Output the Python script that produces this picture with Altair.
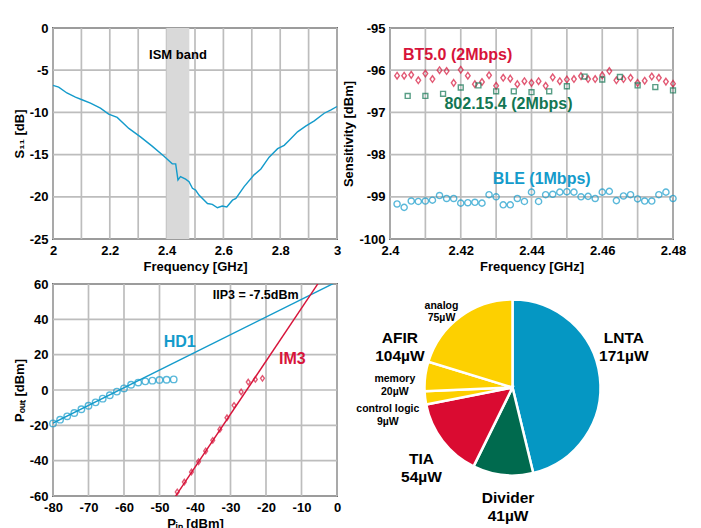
import altair as alt
import pandas as pd

FONT = "Liberation Sans"
BLUE = "#149bcb"
RED = "#d7143a"
GREEN = "#137653"
GRID = "#bdbdbd"

# ---------------- Panel (a): S11 ----------------
s11_freq = [2.0, 2.02, 2.049, 2.079, 2.102, 2.132, 2.167, 2.196, 2.226, 2.267,
            2.308, 2.349, 2.391, 2.42, 2.432, 2.44, 2.449, 2.467, 2.479, 2.491,
            2.502, 2.514, 2.544, 2.561, 2.579, 2.596, 2.612, 2.632, 2.644, 2.673,
            2.708, 2.732, 2.761, 2.791, 2.814, 2.832, 2.861, 2.891, 2.92, 2.955,
            2.979, 3.0]
s11_db = [-6.8, -7.0, -7.7, -8.2, -8.5, -8.9, -9.5, -10.2, -10.6, -11.9,
          -12.9, -14.0, -15.2, -16.1, -16.1, -18.0, -17.6, -17.9, -18.2, -19.0,
          -19.2, -19.8, -20.8, -20.9, -21.3, -21.1, -21.2, -20.4, -20.2, -18.8,
          -17.4, -16.7, -15.3, -14.3, -13.9, -13.3, -12.3, -11.6, -11.0, -10.1,
          -9.7, -9.3]
ism_band = [2.4, 2.48]
s11_xticks = [2.0, 2.1, 2.2, 2.3, 2.4, 2.5, 2.6, 2.7, 2.8, 2.9, 3.0]
s11_yticks = [-25, -20, -15, -10, -5, 0]

# ---------------- Panel (b): Sensitivity ----------------
sens_freq = [2.402, 2.404, 2.406, 2.408, 2.41, 2.412, 2.414, 2.416, 2.418, 2.42,
             2.422, 2.424, 2.426, 2.428, 2.43, 2.432, 2.434, 2.436, 2.438, 2.44,
             2.442, 2.444, 2.446, 2.448, 2.45, 2.452, 2.454, 2.456, 2.458, 2.46,
             2.462, 2.464, 2.466, 2.468, 2.47, 2.472, 2.474, 2.476, 2.478, 2.48]
bt5_sens = [-96.13, -96.13, -96.11, -96.24, -96.08, -96.21, -96.0, -96.02, -96.30, -95.99,
            -96.13, -96.33, -96.28, -96.12, -96.37, -96.18, -96.20, -96.33, -96.26, -96.30,
            -96.26, -96.37, -96.17, -96.26, -96.22, -96.21, -96.14, -96.21, -96.21, -96.12,
            -96.02, -96.24, -96.21, -96.18, -96.30, -96.25, -96.15, -96.18, -96.27, -96.32]
ble_sens = [-99.17, -99.25, -99.10, -99.11, -99.10, -99.08, -98.97, -99.04, -99.04, -99.15,
            -99.14, -99.13, -99.15, -98.95, -99.00, -99.19, -99.19, -99.04, -99.11, -98.89,
            -99.11, -98.95, -98.94, -98.89, -98.88, -98.89, -99.00, -98.99, -99.04, -98.89,
            -98.87, -99.09, -98.98, -98.95, -99.05, -99.10, -99.10, -98.95, -98.89, -99.04]
zb_freq = [2.405, 2.41, 2.415, 2.42, 2.425, 2.43, 2.435, 2.44,
           2.445, 2.45, 2.455, 2.46, 2.465, 2.47, 2.475, 2.48]
zb_sens = [-96.61, -96.61, -96.56, -96.41, -96.36, -96.50, -96.50, -96.52,
           -96.50, -96.38, -96.15, -96.22, -96.16, -96.36, -96.40, -96.48]
sens_xticks = [2.40, 2.41, 2.42, 2.43, 2.44, 2.45, 2.46, 2.47, 2.48]
sens_yticks = [-100, -99, -98, -97, -96, -95]

# ---------------- Panel (c): Pout vs Pin ----------------
hd1_pin = [-80, -78, -76, -74, -72, -70, -68, -66, -64, -62, -60, -58, -56, -54, -52, -50, -48, -46]
hd1_pout = [-18.9, -16.8, -14.9, -13.0, -10.9, -8.9, -7.0, -4.9, -3.0, -0.9,
            0.9, 3.0, 4.2, 4.9, 5.3, 5.7, 5.8, 6.0]
im3_pin = [-45, -43, -41, -39, -37, -35, -33, -31, -29, -27, -25, -23, -21]
im3_pout = [-57.7, -52.1, -46.4, -40.6, -34.5, -28.5, -22.3, -15.7, -8.7, -1.1, 4.5, 6.0, 6.6]
hd1_fit_pin = [-80, 0]
hd1_fit_pout = [-18.7, 61.3]
im3_fit_pin = [-46, -5]
im3_fit_pout = [-61.7, 61.3]
pio_xticks = [-80, -70, -60, -50, -40, -30, -20, -10, 0]
pio_yticks = [-60, -40, -20, 0, 20, 40, 60]

# ---------------- Panel (d): power breakdown ----------------
blocks = ["LNTA", "Divider", "TIA", "control logic", "memory", "analog"]
power_uw = [171, 41, 54, 9, 20, 75]
pie_colors = ["#0597c3", "#006a4e", "#da0b31", "#fdd000", "#fdd000", "#fdd000"]
big_labels = ["LNTA\n171µW", "AFIR\n104µW", "TIA\n54µW", "Divider\n41µW"]
big_u = [1.265, -1.28, -1.034, -0.05]
big_v = [0.56, 0.56, -0.817, -1.26]
small_labels = ["analog\n75µW", "memory\n20µW", "control logic\n9µW"]
small_u = [-0.807, -1.337, -1.417]
small_v = [0.93, 0.094, -0.243]

PIE_R = 88
PIE_W = 245
PIE_H = 207

W, H = 284, 211


def axis(ticks, title, expr):
    return alt.Axis(values=ticks, title=title, labelExpr=expr, grid=False,
                    labelOverlap=False, labelFlush=False)


def xq(field, domain, ticks, title, expr):
    return alt.X(field, type="quantitative",
                 scale=alt.Scale(domain=domain, nice=False, zero=False),
                 axis=axis(ticks, title, expr))


def yq(field, domain, ticks, title):
    return alt.Y(field, type="quantitative",
                 scale=alt.Scale(domain=domain, nice=False, zero=False),
                 axis=axis(ticks, title, "toString(datum.value)"))


def label(x, y, text, color, size, xenc, yenc):
    return alt.Chart(pd.DataFrame({"x": [x], "y": [y], "t": [text]})).mark_text(
        font=FONT, fontWeight="bold", fontSize=size, color=color
    ).encode(x=xenc, y=yenc, text="t:N")


def grid(xticks, yticks, xenc, yenc):
    vx = alt.Chart(pd.DataFrame({"x": xticks})).mark_rule(
        color=GRID, strokeWidth=1.7).encode(x=xenc)
    hy = alt.Chart(pd.DataFrame({"y": yticks})).mark_rule(
        color=GRID, strokeWidth=1.7).encode(y=yenc)
    return [vx, hy]


# ---- Panel (a)
xa = xq("x", [2, 3], s11_xticks, "Frequency [GHz]",
        "round(datum.value*10)%2==0 ? toString(datum.value) : ''")
ya = yq("y", [-25, 0], s11_yticks, "S₁₁ [dB]")
band = alt.Chart(pd.DataFrame({"x": [ism_band[0]], "x2": [ism_band[1]], "y": [0], "y2": [-25]})).mark_rect(
    color="#d9d9d9").encode(x=xa, x2="x2:Q", y=ya, y2="y2:Q")
s11_line = alt.Chart(pd.DataFrame({"x": s11_freq, "y": s11_db})).mark_line(
    color=BLUE, strokeWidth=1.4).encode(x=xa, y=ya)
p1 = alt.layer(
    *grid(s11_xticks, s11_yticks, xa, ya), band, s11_line,
    label(2.44, -3.24, "ISM band", "black", 13, xa, ya)
).properties(width=W, height=H)

# ---- Panel (b)
xb = xq("x", [2.4, 2.48], sens_xticks, "Frequency [GHz]",
        "round(datum.value*100)%2==0 ? toString(datum.value) : ''")
yb = yq("y", [-100, -95], sens_yticks, "Sensitivity [dBm]")
DIAMOND = "M0,-1L0.7,0L0,1L-0.7,0Z"
bt5 = alt.Chart(pd.DataFrame({"x": sens_freq, "y": bt5_sens})).mark_point(
    shape=DIAMOND, filled=False, color=RED, size=44, strokeWidth=1.4).encode(x=xb, y=yb)
zb = alt.Chart(pd.DataFrame({"x": zb_freq, "y": zb_sens})).mark_point(
    shape="square", filled=False, color=GREEN, size=24, strokeWidth=1.4).encode(x=xb, y=yb)
ble = alt.Chart(pd.DataFrame({"x": sens_freq, "y": ble_sens})).mark_point(
    shape="circle", filled=False, color=BLUE, size=38, strokeWidth=1.4).encode(x=xb, y=yb)
p2 = alt.layer(
    *grid(sens_xticks, sens_yticks, xb, yb),
    bt5, zb, ble,
    label(2.4191, -95.63, "BT5.0 (2Mbps)", RED, 16, xb, yb),
    label(2.4335, -96.81, "802.15.4 (2Mbps)", GREEN, 16, xb, yb),
    label(2.4429, -98.57, "BLE (1Mbps)", BLUE, 16, xb, yb),
).properties(width=283, height=H)

# ---- Panel (c)
xc = xq("x", [-80, 0], pio_xticks, "Pᵢₙ [dBm]", "toString(datum.value)")
yc = yq("y", [-60, 60], pio_yticks, "Pₒᵤₜ [dBm]")
hd1_fit = alt.Chart(pd.DataFrame({"x": hd1_fit_pin, "y": hd1_fit_pout})).mark_line(
    color=BLUE, strokeWidth=1.4, clip=True).encode(x=xc, y=yc)
im3_fit = alt.Chart(pd.DataFrame({"x": im3_fit_pin, "y": im3_fit_pout})).mark_line(
    color=RED, strokeWidth=1.4, clip=True).encode(x=xc, y=yc)
hd1_pts = alt.Chart(pd.DataFrame({"x": hd1_pin, "y": hd1_pout})).mark_point(
    shape="circle", filled=False, color=BLUE, size=42, strokeWidth=1.4).encode(x=xc, y=yc)
im3_pts = alt.Chart(pd.DataFrame({"x": im3_pin, "y": im3_pout})).mark_point(
    shape=DIAMOND, filled=False, color=RED, size=30, strokeWidth=1.4).encode(x=xc, y=yc)
p3 = alt.layer(
    *grid(pio_xticks, pio_yticks, xc, yc),
    hd1_fit, im3_fit, hd1_pts, im3_pts,
    label(-44.3, 27.2, "HD1", BLUE, 16, xc, yc),
    label(-12.6, 17.4, "IM3", RED, 16, xc, yc),
    label(-22.9, 53.8, "IIP3 = -7.5dBm", "black", 12.5, xc, yc),
).properties(width=W, height=212)

# ---- Panel (d)
pie_df = pd.DataFrame({"b": blocks, "p": power_uw, "i": list(range(len(blocks)))})
arc = alt.Chart(pie_df).mark_arc(outerRadius=PIE_R, stroke="white", strokeWidth=2.5).encode(
    theta=alt.Theta("p:Q", stack=True),
    order=alt.Order("i:Q"),
    color=alt.Color("b:N", scale=alt.Scale(domain=blocks, range=pie_colors), legend=None),
)
ux = alt.Scale(domain=[-PIE_W / 2 / PIE_R, PIE_W / 2 / PIE_R], nice=False, zero=False)
vy = alt.Scale(domain=[-PIE_H / 2 / PIE_R, PIE_H / 2 / PIE_R], nice=False, zero=False)
big_txt = alt.Chart(pd.DataFrame({"u": big_u, "v": big_v, "t": big_labels})).mark_text(
    font=FONT, fontWeight="bold", fontSize=15.5, lineHeight=18, lineBreak="\n", color="black"
).encode(x=alt.X("u:Q", scale=ux, axis=None), y=alt.Y("v:Q", scale=vy, axis=None), text="t:N")
small_txt = alt.Chart(pd.DataFrame({"u": small_u, "v": small_v, "t": small_labels})).mark_text(
    font=FONT, fontWeight="bold", fontSize=10.5, lineHeight=12.7, lineBreak="\n", color="black"
).encode(x=alt.X("u:Q", scale=ux, axis=None), y=alt.Y("v:Q", scale=vy, axis=None), text="t:N")
p4 = alt.layer(arc, big_txt, small_txt).properties(
    width=PIE_W, height=PIE_H, view=alt.ViewBackground(stroke="transparent"))

chart = alt.concat(
    p1, p2, p3, p4, columns=2,
    spacing=alt.RowColnumber(row=45, column=53),
    bounds="flush",
).properties(
    padding={"left": 4, "top": 13, "right": 5, "bottom": 5},
    background="white",
).configure_view(
    stroke="black", strokeWidth=1.5
).configure_axis(
    labelFont=FONT, labelFontSize=13, labelFontWeight="bold", labelColor="black",
    titleFont=FONT, titleFontSize=13, titleFontWeight="bold", titleColor="black",
    domain=False, ticks=False, labelPadding=5, titlePadding=3,
)

chart.save("out.html", embed_options={"renderer": "svg", "actions": False})
